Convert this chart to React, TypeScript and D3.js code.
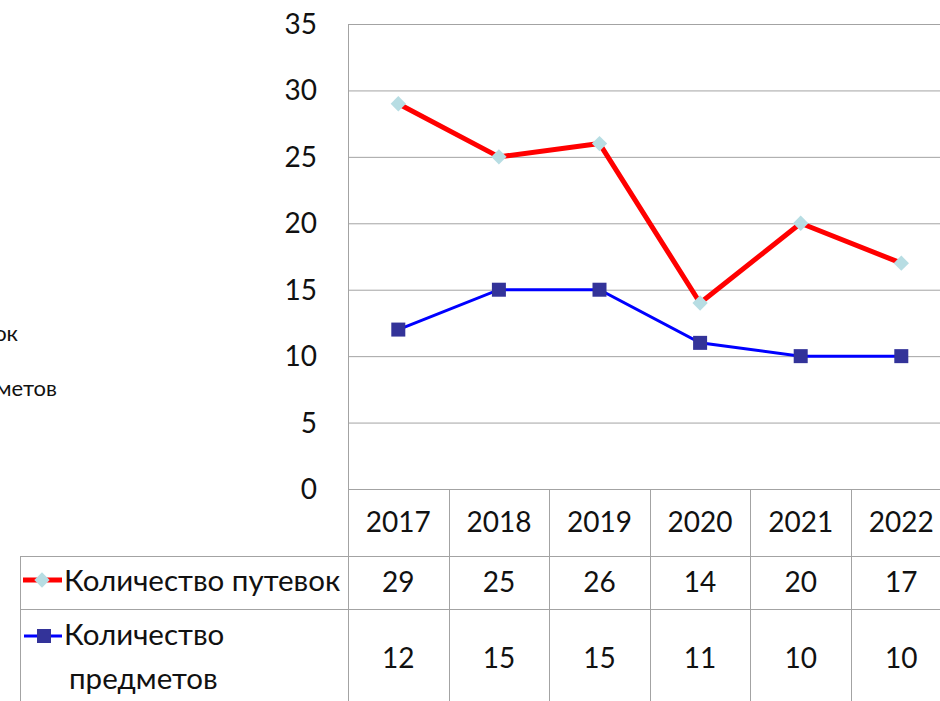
import * as d3 from "d3";
import React from "react";

// chart data
const years = ["2017", "2018", "2019", "2020", "2021", "2022"];
const vouchers = [29, 25, 26, 14, 20, 17];
const subjects = [12, 15, 15, 11, 10, 10];
const yTicks = [0, 5, 10, 15, 20, 25, 30, 35];
const seriesNames = ["Количество путевок", "Количество предметов"];

const W = 940;
const H = 701;
const FONT = "Lato, 'Open Sans', sans-serif";

const App = () => {
  const x = d3.scaleBand<string>().domain(years).range([348, 348 + 6 * 100.6]);
  const y = d3.scaleLinear().domain([0, 35]).range([489, 24]);
  const cx = (d: string) => (x(d) as number) + x.bandwidth() / 2;

  const line = d3
    .line<number>()
    .x((_, i) => cx(years[i]))
    .y((d) => y(d));

  const grid = "#a3a3a3";
  const diamond = d3.symbol().type(d3.symbolDiamond2).size(150)();

  return (
    <svg
      width={W}
      height={H}
      style={{ position: "fixed", left: 0, top: 0, background: "#fff" }}
      fontFamily={FONT}
    >
      {/* outer legend, cut off by the left edge like in the source */}
      <text x={18} y={341} fontSize={22} textAnchor="end" fill="#111">
        {seriesNames[0]}
      </text>
      <text x={57} y={396} fontSize={22} textAnchor="end" fill="#111">
        {seriesNames[1]}
      </text>

      {/* gridlines */}
      {yTicks.map((t) => (
        <g key={t}>
          <line x1={348} x2={W} y1={y(t) + 0.5} y2={y(t) + 0.5} stroke={grid} />
          <text x={317} y={y(t) + 10} fontSize={28} textAnchor="end" fill="#111">
            {t}
          </text>
        </g>
      ))}
      <line x1={348.5} x2={348.5} y1={24} y2={H} stroke={grid} />

      {/* data table */}
      <line x1={20} x2={W} y1={556.5} y2={556.5} stroke={grid} />
      <line x1={20} x2={W} y1={609.5} y2={609.5} stroke={grid} />
      <line x1={20.5} x2={20.5} y1={556} y2={H} stroke={grid} />
      {years.slice(1).map((yr) => (
        <line
          key={yr}
          x1={Math.round(x(yr) as number) + 0.5}
          x2={Math.round(x(yr) as number) + 0.5}
          y1={489}
          y2={H}
          stroke={grid}
        />
      ))}
      {years.map((yr, i) => (
        <g key={yr} fontSize={28} textAnchor="middle" fill="#111">
          <text x={cx(yr)} y={532}>{yr}</text>
          <text x={cx(yr)} y={592}>{vouchers[i]}</text>
          <text x={cx(yr)} y={668}>{subjects[i]}</text>
        </g>
      ))}

      {/* table legend keys */}
      <line x1={23} x2={62} y1={580} y2={580} stroke="#ff0000" strokeWidth={5} />
      <path d={diamond as string} transform="translate(42,580)" fill="#b7dde3" />
      <text x={64} y={591} fontSize={29.5} fill="#111">{seriesNames[0]}</text>
      <line x1={24} x2={62} y1={636} y2={636} stroke="#0000ff" strokeWidth={3} />
      <rect x={37} y={629} width={14} height={14} fill="#333399" />
      <text x={64} y={645} fontSize={29.5} fill="#111">Количество</text>
      <text x={69} y={689} fontSize={29.5} fill="#111">предметов</text>

      {/* series */}
      <path d={line(vouchers) as string} fill="none" stroke="#ff0000" strokeWidth={5} strokeLinejoin="round" />
      {vouchers.map((v, i) => (
        <path key={i} d={diamond as string} transform={`translate(${cx(years[i])},${y(v)})`} fill="#b7dde3" />
      ))}
      <path d={line(subjects) as string} fill="none" stroke="#0000ff" strokeWidth={3} />
      {subjects.map((v, i) => (
        <rect key={i} x={cx(years[i]) - 7} y={y(v) - 7} width={14} height={14} fill="#333399" />
      ))}
    </svg>
  );
};

export default App;
